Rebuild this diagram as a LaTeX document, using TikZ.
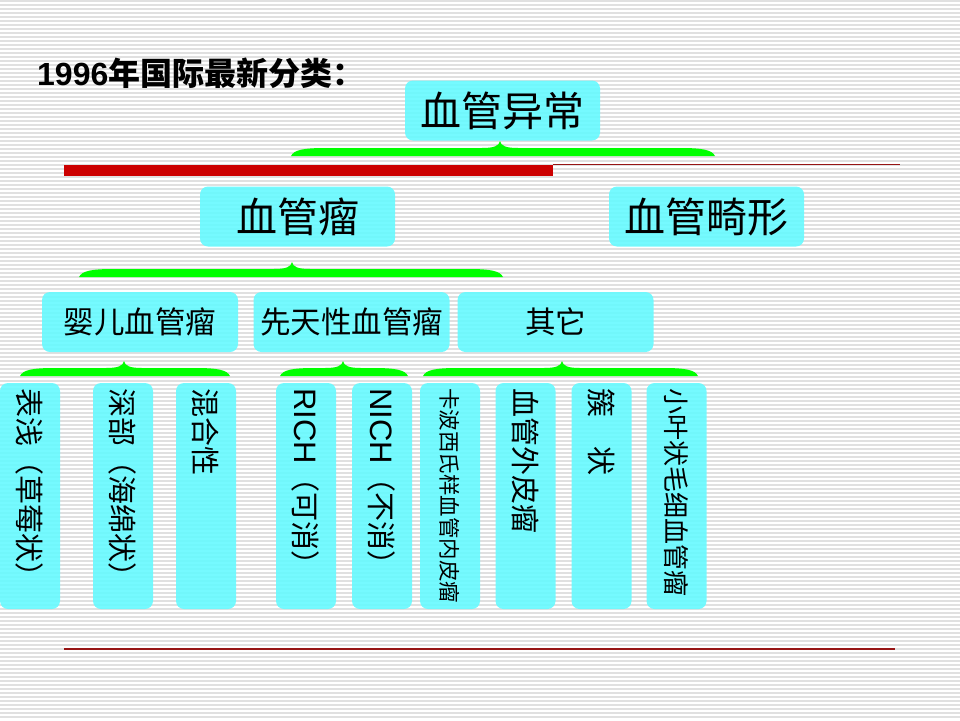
\documentclass[tikz,border=0pt]{standalone}
\usepackage{fontspec}
\setmainfont{Noto Sans CJK SC}
\newfontfamily\arialfont{Liberation Sans}
\usetikzlibrary{positioning}

\definecolor{boxcyan}{RGB}{102,250,255}
\definecolor{bracegreen}{RGB}{0,255,0}
\definecolor{barred}{RGB}{204,0,0}
\definecolor{linered}{RGB}{150,20,20}
\definecolor{stripegray}{RGB}{224,224,224}

% #1 left end, #2 right end, #3 tip, #4 bottom
\newcommand{\greenbrace}[4]{%
  \fill[bracegreen] (#1,#4) .. controls (#1+3,#4-6) and (#1+12,#4-8) .. (#1+35,#4-8)
    -- (#3-18,#4-8) .. controls (#3-6,#4-8) and (#3-1,#4-10) .. (#3,#4-15)
    .. controls (#3+1,#4-10) and (#3+6,#4-8) .. (#3+18,#4-8)
    -- (#2-35,#4-8) .. controls (#2-12,#4-8) and (#2-3,#4-6) .. (#2,#4) -- cycle;}

\begin{document}
\begin{tikzpicture}[x=1pt,y=-1pt,
  cat/.style={fill=boxcyan, fill opacity=0.9, text opacity=1, rounded corners=8pt, inner sep=0pt},
  big/.style={cat, minimum width=195pt, minimum height=60pt, font=\fontsize{41}{43}\selectfont},
  mid/.style={cat, minimum width=196pt, minimum height=60pt, font=\fontsize{30.5}{32}\selectfont},
  vcat/.style={cat, rotate=-90, minimum height=60pt, inner xsep=5pt, text width=216pt,
    align=flush left, font=\fontsize{29}{31}\selectfont}]
		\useasboundingbox (0,0) rectangle (960,720);
		% background
		\foreach \y in {1,5,...,717}
		\draw[stripegray, line width=1.1pt] (0,\y) -- (960,\y);
		
		% title
		\node[anchor=west, inner sep=0pt, font=\fontsize{32}{34}\selectfont\bfseries] (title) at (37,73) {{\arialfont 1996}年国际最新分类：};
		
		% top
		\node[big] (anomaly) at (502.5,110.5) {血管异常};
		\greenbrace{291}{715}{500}{156}
		\fill[barred] (64,165) rectangle (553,176);
		\draw[linered, line width=1.2pt] (553,164.5) -- (900,164.5);
		
		% second row
		\node[big] (tumor) at (297.5,216.5) {血管瘤};
		\node[big] (malform) at (706.5,216.5) {血管畸形};
		\greenbrace{79}{503}{292}{277}
		
		% third row
		\node[mid] (infant) at (140,322) {婴儿血管瘤};
		\node[mid] (congen) at (351.5,322) {先天性血管瘤};
		\node[mid] (other) at (555.5,322) {其它};
		\greenbrace{20}{230}{124}{376}
		\greenbrace{280}{408}{343}{376}
		\greenbrace{423}{698}{562}{376}
		
		% fourth row
		\node[vcat] (superf) at (30,496) {表浅（草莓状）};
		\node[vcat] (deep) at (123,496) {深部（海绵状）};
		\node[vcat] (mixed) at (206,496) {混合性};
		\node[vcat] (rich) at (306,496) {{\arialfont\fontsize{31}{33}\selectfont RICH}（可消）};
		\node[vcat] (nich) at (382,496) {{\arialfont\fontsize{31}{33}\selectfont NICH}（不消）};
		\node[vcat, font=\fontsize{21.5}{23}\selectfont] (kaposi) at (450,496) {卡波西氏样血管内皮瘤};
		\node[vcat] (pericyte) at (525.5,496) {血管外皮瘤};
		\node[vcat] (tufted) at (601.5,496) {簇　状};
		\node[vcat, font=\fontsize{26}{28}\selectfont] (lobular) at (676.5,496) {小叶状毛细血管瘤};
		
		% bottom rule
		\draw[linered, line width=1.5pt] (64,649) -- (895,649);
		\end{tikzpicture}
\end{document}
